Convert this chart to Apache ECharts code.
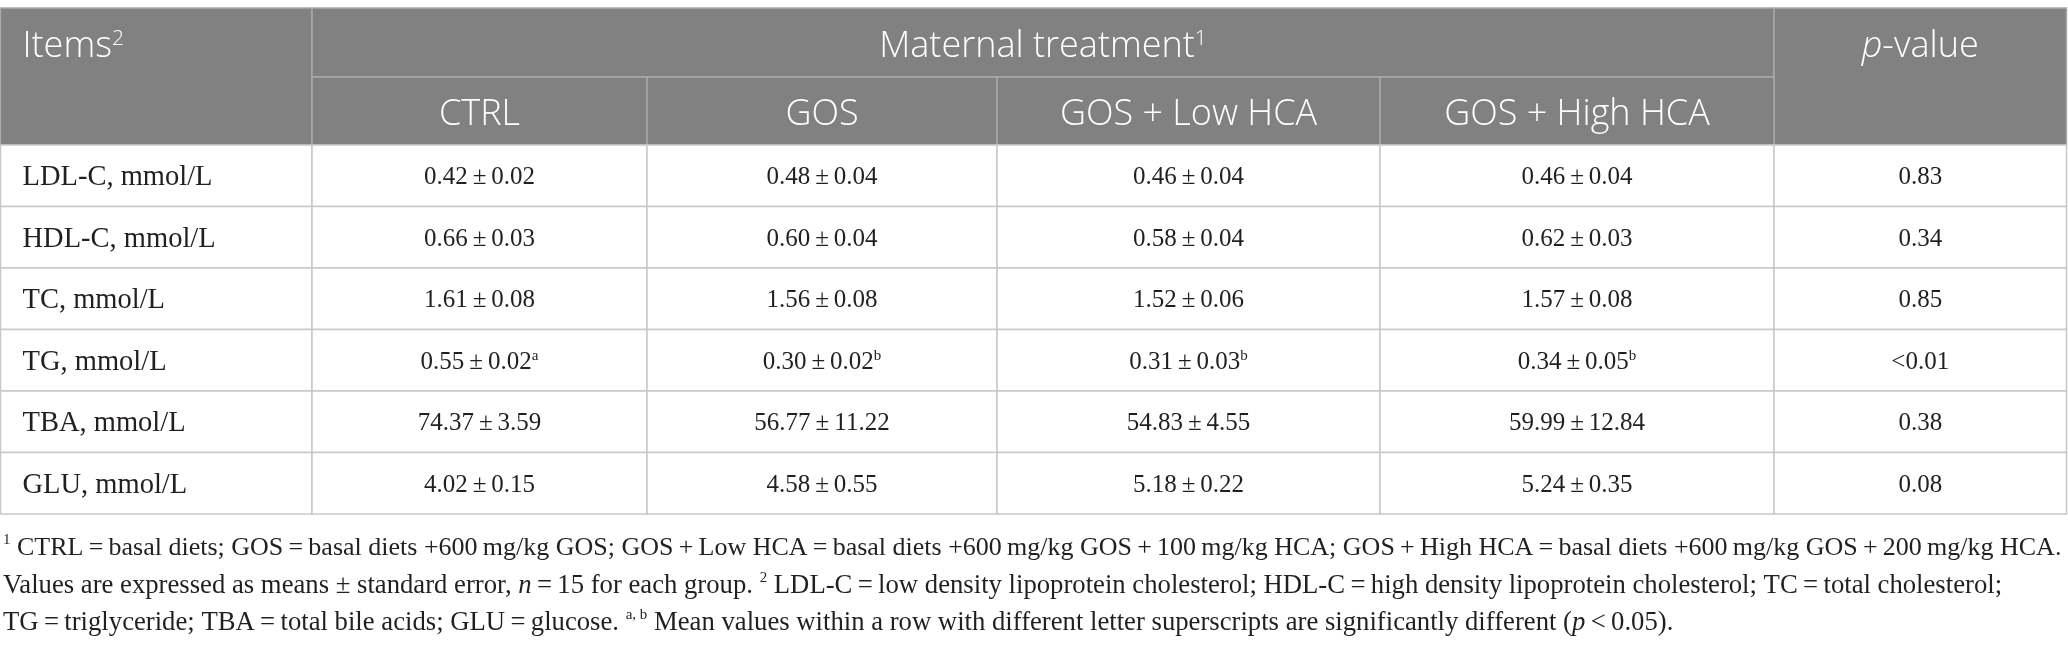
<!DOCTYPE html>
<html>
<head>
<meta charset="utf-8">
<script src="https://cdn.jsdelivr.net/npm/echarts@6/dist/echarts.min.js"></script>
<style>
html, body { margin: 0; padding: 0; background: #fff; }
#chart { width: 2068px; height: 645px; }
</style>
</head>
<body>
<div id="chart"></div>
<script>
// table content
var items = ['LDL-C, mmol/L', 'HDL-C, mmol/L', 'TC, mmol/L', 'TG, mmol/L', 'TBA, mmol/L', 'GLU, mmol/L'];
var groups = ['CTRL', 'GOS', 'GOS + Low HCA', 'GOS + High HCA'];

var ctrlMean = [0.42, 0.66, 1.61, 0.55, 74.37, 4.02];
var ctrlSe = [0.02, 0.03, 0.08, 0.02, 3.59, 0.15];
var ctrlSup = ['', '', '', 'a', '', ''];

var gosMean = [0.48, 0.60, 1.56, 0.30, 56.77, 4.58];
var gosSe = [0.04, 0.04, 0.08, 0.02, 11.22, 0.55];
var gosSup = ['', '', '', 'b', '', ''];

var lowMean = [0.46, 0.58, 1.52, 0.31, 54.83, 5.18];
var lowSe = [0.04, 0.04, 0.06, 0.03, 4.55, 0.22];
var lowSup = ['', '', '', 'b', '', ''];

var highMean = [0.46, 0.62, 1.57, 0.34, 59.99, 5.24];
var highSe = [0.04, 0.03, 0.08, 0.05, 12.84, 0.35];
var highSup = ['', '', '', 'b', '', ''];

var pValues = ['0.83', '0.34', '0.85', '<0.01', '0.38', '0.08'];

var T = '\u2009'; // thin space
var footnotes = [
  '{s|1} CTRL' + T + '=' + T + 'basal diets; GOS' + T + '=' + T + 'basal diets +600' + T + 'mg/kg GOS; GOS' + T + '+' + T + 'Low HCA' + T + '=' + T + 'basal diets +600' + T + 'mg/kg GOS' + T + '+' + T + '100' + T + 'mg/kg HCA; GOS' + T + '+' + T + 'High HCA' + T + '=' + T + 'basal diets +600' + T + 'mg/kg GOS' + T + '+' + T + '200' + T + 'mg/kg HCA.',
  'Values are expressed as means ± standard error, {i|n}' + T + '=' + T + '15 for each group. {s|2} LDL-C' + T + '=' + T + 'low density lipoprotein cholesterol; HDL-C' + T + '=' + T + 'high density lipoprotein cholesterol; TC' + T + '=' + T + 'total cholesterol;',
  'TG' + T + '=' + T + 'triglyceride; TBA' + T + '=' + T + 'total bile acids; GLU' + T + '=' + T + 'glucose. {s|a, b} Mean values within a row with different letter superscripts are significantly different ({i|p}' + T + '<' + T + '0.05).'
];

// layout
var colEdges = [0.5, 312, 647, 997, 1380, 1774, 2066.5];
var rowEdges = [8, 77, 145, 206.5, 268, 329.5, 391, 452.5, 514];

var headFont = 'Open Sans';
var bodyFont = 'Liberation Serif';
var ink = '#231f20';

var headRich = {
  i: { fontFamily: headFont, fontSize: 36, fontWeight: 300, fill: '#fff', fontStyle: 'italic', lineHeight: 36 },
  s: { fontFamily: headFont, fontSize: 21, fontWeight: 300, fill: '#fff', verticalAlign: 'top', lineHeight: 12 }
};
var bodyRich = {
  s: { fontFamily: bodyFont, fontSize: 15, fill: ink, verticalAlign: 'top', lineHeight: 19 }
};
var noteSize = [26, 26.7, 26.7];
function noteRich(size) {
  return {
    i: { fontFamily: bodyFont, fontSize: size, fill: ink, fontStyle: 'italic', lineHeight: 30 },
    s: { fontFamily: bodyFont, fontSize: 15, fill: ink, verticalAlign: 'top', lineHeight: 21 }
  };
}

function fmt(m, se, sup) {
  var t = m.toFixed(2) + T + '±' + T + se.toFixed(2);
  return sup ? t + '{s|' + sup + '}' : t;
}

// cells: c0, c1, r0, r1, kind, text, align, row used for text centre
var cells = [];
cells.push({ c0: 0, c1: 1, r0: 0, r1: 2, kind: 'head', text: 'Items{s|2}', align: 'left', tr: 1 });
cells.push({ c0: 1, c1: 5, r0: 0, r1: 1, kind: 'head', text: 'Maternal treatment{s|1}', align: 'center', tr: 1 });
cells.push({ c0: 5, c1: 6, r0: 0, r1: 2, kind: 'head', text: '{i|p}-value', align: 'center', tr: 1 });
groups.forEach(function (g, k) {
  cells.push({ c0: k + 1, c1: k + 2, r0: 1, r1: 2, kind: 'head', text: g, align: 'center', tr: 2 });
});
var means = [ctrlMean, gosMean, lowMean, highMean];
var ses = [ctrlSe, gosSe, lowSe, highSe];
var sups = [ctrlSup, gosSup, lowSup, highSup];
items.forEach(function (name, i) {
  var r = i + 2;
  cells.push({ c0: 0, c1: 1, r0: r, r1: r + 1, kind: 'label', text: name, align: 'left', tr: r + 1 });
  for (var k = 0; k < 4; k++) {
    cells.push({ c0: k + 1, c1: k + 2, r0: r, r1: r + 1, kind: 'value', text: fmt(means[k][i], ses[k][i], sups[k][i]), align: 'center', tr: r + 1 });
  }
  cells.push({ c0: 5, c1: 6, r0: r, r1: r + 1, kind: 'value', text: pValues[i], align: 'center', tr: r + 1 });
});

var cellData = cells.map(function (c) {
  return [colEdges[c.c0], rowEdges[c.r0], colEdges[c.c1], rowEdges[c.r1], rowEdges[c.tr]];
});

var kindStyle = {
  head: { fontFamily: headFont, fontSize: 36, fontWeight: 300, lineHeight: 36, fill: '#fff', dy: 4, rich: headRich },
  label: { fontFamily: bodyFont, fontSize: 28.5, lineHeight: 30, fill: ink, dy: 2, rich: bodyRich },
  value: { fontFamily: bodyFont, fontSize: 25, lineHeight: 28, fill: ink, dy: 2, rich: bodyRich }
};

function renderItem(params, api) {
  var cell = cells[params.dataIndex];
  var ks = kindStyle[cell.kind];
  var p0 = api.coord([api.value(0), api.value(1)]);
  var p1 = api.coord([api.value(2), api.value(3)]);
  var pt = api.coord([api.value(0), api.value(4)]);
  var tx = cell.align === 'left' ? p0[0] + 22 : (p0[0] + p1[0]) / 2;
  var ty = (p0[1] + pt[1]) / 2 + ks.dy;
  var head = cell.kind === 'head';
  return {
    type: 'group',
    children: [{
      type: 'rect',
      shape: { x: p0[0], y: p0[1], width: p1[0] - p0[0], height: p1[1] - p0[1] },
      style: {
        fill: head ? '#808180' : '#fff',
        stroke: head ? '#a9a9a9' : '#c8c8c8',
        lineWidth: 1.5
      }
    }, {
      type: 'text',
      style: {
        text: cell.text,
        x: tx,
        y: ty,
        align: cell.align,
        verticalAlign: 'middle',
        fontFamily: ks.fontFamily,
        fontSize: ks.fontSize,
        fontWeight: ks.fontWeight || 'normal',
        lineHeight: ks.lineHeight,
        fill: ks.fill,
        rich: ks.rich
      }
    }]
  };
}

var noteY = [548, 585.5, 623];

var myChart = echarts.init(document.getElementById('chart'), null, { renderer: 'canvas' });
myChart.setOption({
  animation: false,
  grid: { left: 0, right: 0, top: 0, bottom: 0 },
  xAxis: { type: 'value', min: 0, max: 2068, show: false },
  yAxis: { type: 'value', min: 0, max: 645, inverse: true, show: false },
  graphic: footnotes.map(function (t, i) {
    return {
      type: 'text',
      left: 3,
      top: noteY[i] - 15,
      silent: true,
      style: {
        text: t,
        fontFamily: bodyFont,
        fontSize: noteSize[i],
        lineHeight: 30,
        fill: ink,
        rich: noteRich(noteSize[i])
      }
    };
  }),
  series: [{
    type: 'custom',
    silent: true,
    clip: false,
    renderItem: renderItem,
    encode: { x: [0, 2], y: [1, 3] },
    data: cellData
  }]
});
</script>
</body>
</html>
